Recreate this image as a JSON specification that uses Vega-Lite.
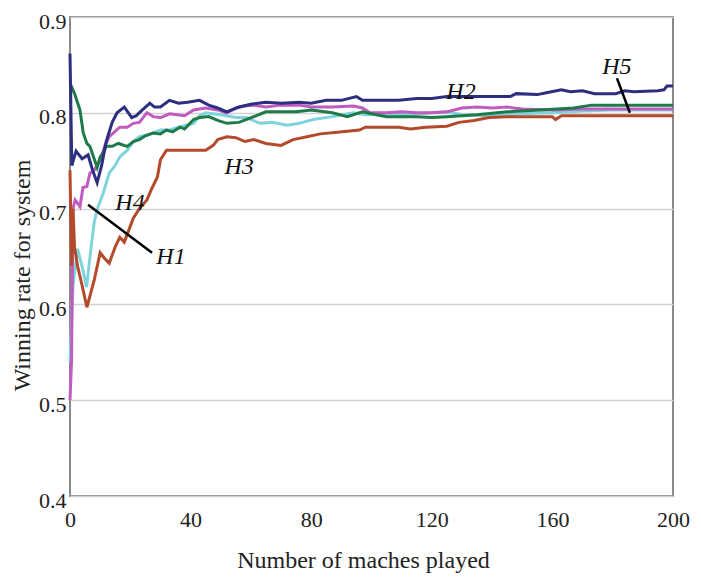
{
  "$schema": "https://vega.github.io/schema/vega-lite/v6.json",
  "width": 603,
  "height": 479,
  "autosize": {"type": "none"},
  "padding": {"left": 70, "top": 17, "right": 28, "bottom": 82},
  "background": "white",
  "config": {
    "font": "Liberation Serif",
    "view": {"stroke": "#8a8a8a", "strokeWidth": 2}
  },
  "datasets": {
    "cyan": [
      {"x":0,"y":0.54},{"x":1,"y":0.62},{"x":2.5,"y":0.658},{"x":4,"y":0.64},{"x":5.5,"y":0.618},{"x":7,"y":0.66},{"x":8,"y":0.685},{"x":9,"y":0.699},{"x":11,"y":0.716},{"x":13,"y":0.737},{"x":15,"y":0.745},{"x":16.5,"y":0.754},{"x":19,"y":0.761},{"x":21,"y":0.77},{"x":23,"y":0.775},{"x":26,"y":0.777},{"x":30,"y":0.782},{"x":33,"y":0.782},{"x":36,"y":0.785},{"x":41,"y":0.789},{"x":43,"y":0.797},{"x":45,"y":0.8},{"x":50,"y":0.798},{"x":55,"y":0.795},{"x":58.6,"y":0.795},{"x":63,"y":0.789},{"x":67,"y":0.79},{"x":72,"y":0.787},{"x":76,"y":0.789},{"x":80.6,"y":0.793},{"x":87,"y":0.796},{"x":94,"y":0.8},{"x":98,"y":0.798},{"x":105,"y":0.799},{"x":112,"y":0.798},{"x":120,"y":0.8},{"x":125,"y":0.801},{"x":130,"y":0.798},{"x":140,"y":0.797},{"x":150,"y":0.799},{"x":160,"y":0.8},{"x":170,"y":0.802},{"x":180,"y":0.803},{"x":190,"y":0.803},{"x":200,"y":0.803}
    ],
    "magenta": [
      {"x":0,"y":0.5},{"x":0.5,"y":0.54},{"x":1,"y":0.7},{"x":1.7,"y":0.709},{"x":3.3,"y":0.702},{"x":4.3,"y":0.722},{"x":5.6,"y":0.723},{"x":6.6,"y":0.737},{"x":8,"y":0.74},{"x":10,"y":0.75},{"x":11.5,"y":0.765},{"x":13,"y":0.775},{"x":16.5,"y":0.785},{"x":19,"y":0.785},{"x":21,"y":0.789},{"x":23,"y":0.79},{"x":25.5,"y":0.8},{"x":27.6,"y":0.796},{"x":30,"y":0.795},{"x":33,"y":0.799},{"x":35.5,"y":0.798},{"x":38,"y":0.797},{"x":41,"y":0.803},{"x":45,"y":0.805},{"x":49,"y":0.803},{"x":52,"y":0.8},{"x":55,"y":0.805},{"x":58,"y":0.807},{"x":61,"y":0.808},{"x":65,"y":0.806},{"x":70,"y":0.808},{"x":76,"y":0.808},{"x":80,"y":0.806},{"x":87,"y":0.806},{"x":94,"y":0.807},{"x":97,"y":0.805},{"x":99.5,"y":0.8},{"x":105,"y":0.8},{"x":110,"y":0.801},{"x":115,"y":0.8},{"x":120,"y":0.8},{"x":125,"y":0.801},{"x":130,"y":0.805},{"x":135,"y":0.806},{"x":140,"y":0.805},{"x":145,"y":0.806},{"x":150,"y":0.804},{"x":160,"y":0.803},{"x":170,"y":0.804},{"x":180,"y":0.804},{"x":190,"y":0.804},{"x":200,"y":0.804}
    ],
    "brown": [
      {"x":0,"y":0.74},{"x":0.5,"y":0.64},{"x":1,"y":0.7},{"x":1.5,"y":0.66},{"x":2.5,"y":0.64},{"x":4,"y":0.62},{"x":5.6,"y":0.597},{"x":8,"y":0.625},{"x":10,"y":0.654},{"x":11.5,"y":0.648},{"x":13,"y":0.643},{"x":15,"y":0.66},{"x":16.5,"y":0.67},{"x":18,"y":0.665},{"x":21,"y":0.69},{"x":23,"y":0.7},{"x":25.5,"y":0.709},{"x":27,"y":0.72},{"x":29,"y":0.733},{"x":30,"y":0.751},{"x":32,"y":0.761},{"x":43,"y":0.761},{"x":45,"y":0.761},{"x":47.5,"y":0.766},{"x":49,"y":0.772},{"x":52,"y":0.775},{"x":55,"y":0.774},{"x":58,"y":0.77},{"x":61,"y":0.772},{"x":65,"y":0.768},{"x":70,"y":0.766},{"x":74,"y":0.772},{"x":78.6,"y":0.775},{"x":83,"y":0.778},{"x":89.5,"y":0.78},{"x":96,"y":0.782},{"x":98,"y":0.785},{"x":109,"y":0.785},{"x":113,"y":0.783},{"x":118,"y":0.785},{"x":125,"y":0.786},{"x":129,"y":0.79},{"x":134,"y":0.792},{"x":139,"y":0.795},{"x":145,"y":0.796},{"x":155,"y":0.796},{"x":160,"y":0.796},{"x":161,"y":0.793},{"x":163,"y":0.797},{"x":200,"y":0.797}
    ],
    "green": [
      {"x":0,"y":0.831},{"x":1.5,"y":0.82},{"x":3.3,"y":0.803},{"x":4.4,"y":0.779},{"x":5.6,"y":0.768},{"x":6.6,"y":0.765},{"x":9,"y":0.743},{"x":10,"y":0.754},{"x":11,"y":0.758},{"x":12,"y":0.765},{"x":14,"y":0.765},{"x":16,"y":0.768},{"x":19,"y":0.765},{"x":21,"y":0.77},{"x":23,"y":0.772},{"x":25,"y":0.776},{"x":27.6,"y":0.779},{"x":30,"y":0.778},{"x":32,"y":0.782},{"x":34,"y":0.78},{"x":36.5,"y":0.785},{"x":38,"y":0.783},{"x":41,"y":0.793},{"x":43,"y":0.795},{"x":46,"y":0.796},{"x":49,"y":0.792},{"x":52,"y":0.789},{"x":56,"y":0.79},{"x":61,"y":0.796},{"x":65,"y":0.801},{"x":70,"y":0.801},{"x":75,"y":0.801},{"x":80,"y":0.803},{"x":87,"y":0.8},{"x":92,"y":0.796},{"x":97,"y":0.801},{"x":100,"y":0.799},{"x":105,"y":0.796},{"x":115,"y":0.796},{"x":120,"y":0.795},{"x":125,"y":0.796},{"x":135,"y":0.798},{"x":145,"y":0.801},{"x":156,"y":0.803},{"x":167,"y":0.805},{"x":173,"y":0.808},{"x":200,"y":0.808}
    ],
    "navy": [
      {"x":0,"y":0.862},{"x":0.6,"y":0.745},{"x":2,"y":0.76},{"x":4,"y":0.752},{"x":6,"y":0.756},{"x":7.5,"y":0.74},{"x":9,"y":0.727},{"x":10.5,"y":0.745},{"x":12,"y":0.77},{"x":14,"y":0.79},{"x":15.6,"y":0.8},{"x":18,"y":0.806},{"x":20.5,"y":0.795},{"x":22,"y":0.797},{"x":24,"y":0.803},{"x":26.5,"y":0.81},{"x":28,"y":0.806},{"x":30,"y":0.806},{"x":33,"y":0.813},{"x":36,"y":0.81},{"x":39,"y":0.811},{"x":43,"y":0.813},{"x":46,"y":0.808},{"x":49,"y":0.805},{"x":52,"y":0.801},{"x":56,"y":0.806},{"x":60,"y":0.809},{"x":65,"y":0.811},{"x":70,"y":0.81},{"x":76,"y":0.811},{"x":80,"y":0.81},{"x":85,"y":0.813},{"x":90,"y":0.813},{"x":95,"y":0.817},{"x":97,"y":0.813},{"x":109,"y":0.813},{"x":115,"y":0.815},{"x":120,"y":0.815},{"x":125,"y":0.817},{"x":146,"y":0.817},{"x":148,"y":0.82},{"x":155,"y":0.819},{"x":158,"y":0.821},{"x":163,"y":0.824},{"x":166,"y":0.822},{"x":170,"y":0.823},{"x":174,"y":0.82},{"x":181,"y":0.82},{"x":184,"y":0.823},{"x":187,"y":0.822},{"x":195,"y":0.823},{"x":197,"y":0.824},{"x":198,"y":0.828},{"x":200,"y":0.828}
    ],
    "labels": [
      {"x":33.5,"y":0.65,"t":"H1"},
      {"x":129.7,"y":0.822,"t":"H2"},
      {"x":56.1,"y":0.743,"t":"H3"},
      {"x":19.9,"y":0.706,"t":"H4"},
      {"x":181.4,"y":0.848,"t":"H5"}
    ],
    "pointers": [
      {"x":6.0,"y":0.704,"x2":27.2,"y2":0.654},
      {"x":181.4,"y":0.836,"x2":185.7,"y2":0.8}
    ]
  },
  "encoding": {
    "x": {
      "field": "x", "type": "quantitative",
      "scale": {"domain": [0, 200], "nice": false, "zero": false},
      "axis": {
        "values": [0, 40, 80, 120, 160, 200],
        "grid": false, "ticks": false, "domain": false,
        "labelFlush": false, "labelOverlap": false,
        "labelFontSize": 22, "labelColor": "#222", "labelPadding": 13,
        "title": "Number of maches played",
        "titleFontSize": 24, "titleFontWeight": "normal", "titleColor": "#222",
        "titleX": 293, "titleY": 71, "titleBaseline": "alphabetic", "titleAlign": "center"
      }
    },
    "y": {
      "field": "y", "type": "quantitative",
      "scale": {"domain": [0.4, 0.9], "nice": false, "zero": false},
      "axis": {
        "values": [0.4, 0.5, 0.6, 0.7, 0.8, 0.9],
        "format": ".1f",
        "grid": true, "gridColor": "#d2d2d2", "gridWidth": 1.5,
        "ticks": false, "domain": false,
        "labelFlush": false, "labelOverlap": false,
        "labelFontSize": 22, "labelColor": "#222", "labelPadding": 4, "labelOffset": 4,
        "title": "Winning rate for system",
        "titleFontSize": 24, "titleFontWeight": "normal", "titleColor": "#222",
        "titleAngle": -90, "titleX": -48, "titleY": 258,
        "titleBaseline": "middle", "titleAlign": "center"
      }
    }
  },
  "layer": [
    {"data": {"name": "cyan"}, "mark": {"type": "line", "color": "#7fd3dc", "strokeWidth": 3}},
    {"data": {"name": "magenta"}, "mark": {"type": "line", "color": "#c05bbf", "strokeWidth": 3}},
    {"data": {"name": "brown"}, "mark": {"type": "line", "color": "#b24a2b", "strokeWidth": 3}},
    {"data": {"name": "green"}, "mark": {"type": "line", "color": "#1e7a48", "strokeWidth": 3}},
    {"data": {"name": "navy"}, "mark": {"type": "line", "color": "#2c2f7f", "strokeWidth": 3}},
    {
      "data": {"name": "pointers"},
      "mark": {"type": "rule", "color": "black", "strokeWidth": 2.5},
      "encoding": {
        "x2": {"field": "x2"},
        "y2": {"field": "y2"}
      }
    },
    {
      "data": {"name": "labels"},
      "mark": {"type": "text", "font": "Liberation Serif", "fontStyle": "italic", "fontSize": 24, "color": "#111", "align": "center", "baseline": "middle"},
      "encoding": {"text": {"field": "t"}}
    }
  ]
}
